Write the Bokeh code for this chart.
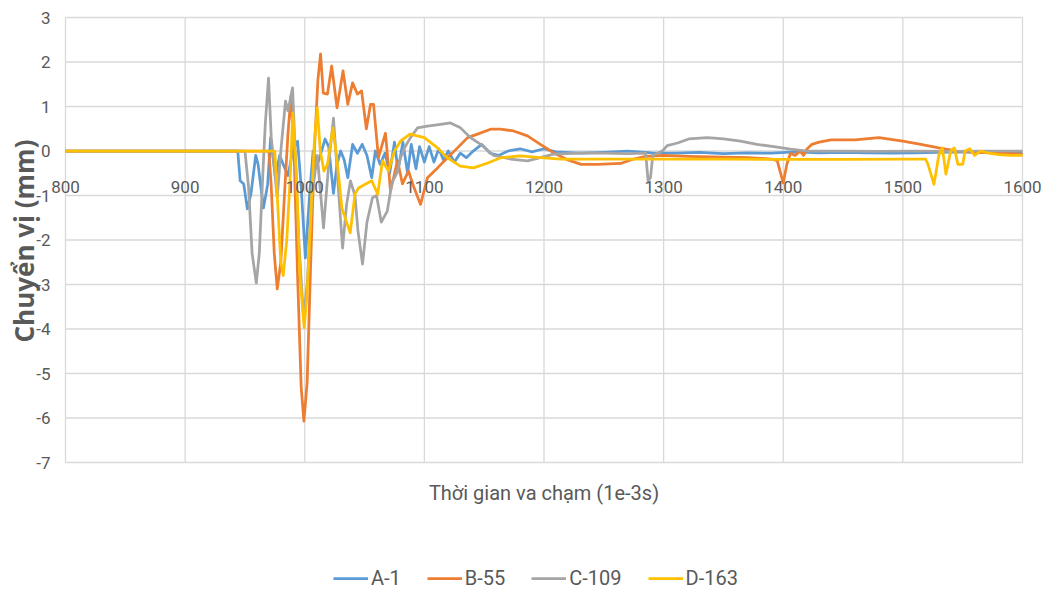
from bokeh.plotting import figure
from bokeh.models import Legend, LegendItem, Range1d
from bokeh.core.properties import value
from bokeh.embed import file_html
from bokeh.resources import INLINE
import math

# ---------------- data ----------------
x_ticks = [800, 900, 1000, 1100, 1200, 1300, 1400, 1500, 1600]
y_ticks = [-7, -6, -5, -4, -3, -2, -1, 0, 1, 2, 3]
series_names = ["A-1", "B-55", "C-109", "D-163"]
x_title = "Thời gian va chạm (1e-3s)"
y_title = "Chuyển vị (mm)"

a_t = [800, 850, 900, 944, 946, 949, 952, 955, 959, 961, 965.5, 969, 971.5, 975.5, 979, 982, 986, 990, 994, 997,
       1000.5, 1004, 1007, 1010, 1013, 1017, 1020, 1024, 1027, 1030, 1033, 1036, 1040, 1044, 1048, 1052, 1056, 1059,
       1063, 1067, 1071, 1075, 1078, 1082, 1086, 1089, 1093, 1096, 1100, 1104, 1108, 1112, 1116, 1120, 1125, 1130,
       1135, 1140, 1148, 1155, 1162, 1170, 1180, 1190, 1200, 1210, 1230, 1250, 1270, 1290, 1310, 1330, 1350, 1370,
       1390, 1410, 1430, 1450, 1470, 1490, 1510, 1530, 1550, 1570, 1600]
a_v = [0, 0, 0, 0, -0.67, -0.74, -1.3, -0.97, -0.1, -0.3, -1.28, -0.75, 0.3, -0.6, -0.1, -0.3, -0.55, 0.0, 0.22, -0.8,
       -2.4, -1.0, 0.0, -0.35, -0.1, 0.27, 0.1, -0.95, -0.3, 0.0, -0.2, -0.6, 0.15, -0.05, 0.15, -0.1, -0.6, 0.0,
       -0.3, -0.05, -0.5, 0.2, -0.45, 0.2, -0.5, 0.15, -0.4, 0.1, -0.25, 0.1, -0.25, 0.05, -0.2, 0.0, -0.25, -0.05,
       -0.15, -0.02, 0.15, -0.05, -0.1, 0.0, 0.05, -0.02, 0.05, -0.02, -0.05, -0.03, 0.0, -0.04, -0.05, -0.03, -0.06, -0.04,
       -0.05, -0.02, -0.04, -0.03, -0.04, -0.05, -0.04, -0.03, -0.02, -0.03, -0.03]

b_t = [800, 900, 970, 972, 974.5, 977, 980, 983, 986, 988.5, 991, 994, 997, 999.3, 1002, 1005, 1008, 1011, 1013.2,
       1015.5, 1019, 1022.5, 1027, 1032, 1036, 1040, 1044, 1047.5, 1051.5, 1055, 1057.5, 1061.6, 1067.5, 1071.7,
       1077.5, 1081.7, 1086.7, 1091, 1096.8, 1102.6, 1111, 1119.3, 1127.7, 1136.1, 1144.4, 1155.3, 1163.6, 1174.5,
       1186.2, 1197, 1208, 1220, 1231, 1245, 1264, 1275, 1285, 1300, 1320, 1350, 1370, 1390, 1395, 1400, 1403, 1406,
       1410, 1414, 1417, 1420, 1424, 1430, 1440, 1460, 1480, 1500, 1515, 1530, 1545, 1560, 1580, 1600]
b_v = [0, 0, 0, -0.8, -2.3, -3.1, -2.5, -1.0, 0.4, 1.24, 0.0, -2.8, -5.3, -6.07, -5.2, -2.5, 0.0, 1.6, 2.18,
       1.3, 1.28, 1.91, 0.97, 1.8, 1.05, 1.53, 1.28, 1.35, 0.5, 1.05, 1.05, -0.15, 0.4, -0.9,
       -0.22, -0.74, -0.45, -0.8, -1.2, -0.6, -0.38, -0.15, 0.07, 0.3, 0.38, 0.49, 0.49, 0.45,
       0.34, 0.15, -0.04, -0.2, -0.3, -0.3, -0.28, -0.18, -0.12, -0.1, -0.12, -0.14, -0.15, -0.18, -0.22, -0.72, -0.3, -0.05,
       -0.1, 0.0, -0.1, 0.05, 0.15, 0.2, 0.25, 0.25, 0.3, 0.22, 0.15, 0.07, 0.0, -0.03, -0.05, -0.07]

c_t = [800, 900, 950, 953, 956, 959.5, 962, 965, 967, 969.7, 972, 977, 980, 983.9, 986, 989.8, 992, 995, 999, 1002,
       1006, 1010.5, 1015.7, 1020, 1024, 1028, 1031.6, 1035, 1038.2, 1042, 1044.5, 1048.3, 1052, 1056.6, 1060, 1064,
       1069, 1073, 1077, 1080, 1084, 1088.4, 1094.3, 1102.6, 1113.5, 1121.8, 1130.2, 1138.6, 1147, 1157.8, 1172,
       1186.2, 1197, 1208, 1230, 1250, 1270, 1285, 1287, 1289, 1291, 1295, 1299, 1303, 1311.6, 1321, 1336.7, 1350,
       1364.3, 1378, 1392, 1406, 1420, 1450, 1480, 1510, 1540, 1570, 1600]
c_v = [0, 0, 0, -0.8, -2.3, -2.97, -2.3, -0.5, 0.6, 1.64, 0.3, -1.05, 0.0, 1.12, 0.9, 1.42, 0.0, -2.0, -3.75, -3.0,
       -1.0, -0.1, -1.73, -0.3, 0.74, -0.8, -2.18, -1.2, -0.67, -1.0, -1.8, -2.54, -1.6, -1.05, -1.0, -1.6,
       -1.35, -0.7, -0.5, -0.15, 0.1, 0.3, 0.52, 0.56, 0.6, 0.63, 0.52, 0.3, 0.15, -0.1, -0.18,
       -0.22, -0.15, -0.07, -0.05, -0.05, -0.06, -0.05, -0.67, -0.6, -0.1, -0.05, 0.0, 0.12, 0.18, 0.27, 0.3, 0.27,
       0.22, 0.15, 0.1, 0.04, 0.0, 0.0, -0.01, 0.0, -0.01, 0.0, 0.0]

d_t = [800, 900, 975, 977, 980, 982, 985, 988, 990, 993, 996, 999.5, 1002, 1005, 1008, 1010.5, 1013, 1016, 1019,
       1023.5, 1027, 1031, 1038, 1042, 1045, 1051, 1056, 1061, 1065, 1070, 1075, 1080, 1088, 1094, 1100, 1111, 1119,
       1130, 1141, 1153, 1164, 1180, 1197, 1214, 1250, 1300, 1350, 1400, 1450, 1500, 1519, 1521, 1526, 1530, 1533,
       1536, 1540, 1543, 1546, 1550, 1552, 1556, 1560, 1565, 1572, 1580, 1590, 1600]
d_v = [0, 0, 0, -1.0, -2.5, -2.8, -2.0, -0.5, 0.85, -0.5, -2.8, -3.97, -3.2, -1.5, 0.2, 0.97, 0.0, -0.45, -0.3,
       0.52, -0.2, -1.28, -1.84, -0.97, -0.83, -0.74, -0.67, -0.97, -0.22, -0.45, 0.0, 0.22, 0.38, 0.34, 0.3, 0.07, -0.15,
       -0.34, -0.38, -0.27, -0.15, -0.11, -0.15, -0.18, -0.18, -0.18, -0.18, -0.19, -0.19, -0.18, -0.18, -0.3, -0.75, -0.1, 0.07,
       -0.52, 0.0, 0.07, -0.3, -0.3, 0.0, 0.05, -0.1, 0.0, -0.05, -0.08, -0.1, -0.1]

colors = ["#5B9BD5", "#ED7D31", "#A5A5A5", "#FFC000"]

FONT = "Roboto"
TXT = "#595959"
GRID = "#D9D9D9"

# Whole canvas is the frame; ranges chosen so 800..1600 / -7..3 land on the reference plot area
W, H = 1045, 594
L, R, T, B = 65, 1022, 17, 462
X0, X1 = x_ticks[0], x_ticks[-1]
Y0, Y1 = y_ticks[0], y_ticks[-1]
ux = (X1 - X0) / (R - L)
uy = (Y1 - Y0) / (B - T)
x_range = Range1d(X0 - L * ux, X1 + (W - R) * ux)
y_range = Range1d(Y0 - (H - B) * uy, Y1 + T * uy)

p = figure(width=W, height=H, x_range=x_range, y_range=y_range,
           x_axis_location=None, y_axis_location=None, output_backend="svg", toolbar_location=None,
           min_border=0, background_fill_color="white", border_fill_color="white")
p.outline_line_color = None
p.xgrid.visible = False
p.ygrid.visible = False

# gridlines confined to the plot area
p.segment(x0=x_ticks, x1=x_ticks, y0=[Y0] * len(x_ticks), y1=[Y1] * len(x_ticks),
          line_color=GRID, line_width=1.3)
p.segment(x0=[X0] * len(y_ticks), x1=[X1] * len(y_ticks), y0=y_ticks, y1=y_ticks,
          line_color=GRID, line_width=1.3)

renderers = []
for t, v, c in zip([a_t, b_t, c_t, d_t], [a_v, b_v, c_v, d_v], colors):
    r = p.line(t, v, line_color=c, line_width=2.75, line_join="round")
    renderers.append(r)

# y tick labels
p.text(x=[X0 - 15 * ux] * len(y_ticks), y=y_ticks, text=[str(v) for v in y_ticks],
       text_align="right", text_baseline="middle", text_font=value(FONT), text_font_size="17px",
       text_color=TXT)
# x tick labels under the zero line
p.text(x=x_ticks, y=[-36 * uy] * len(x_ticks), text=[str(t) for t in x_ticks],
       text_align="center", text_baseline="middle", text_font=value(FONT), text_font_size="17px",
       text_color=TXT)
# axis titles
p.text(x=[(X0 + X1) / 2], y=[-(492 - 150) * uy], text=[x_title], text_align="center",
       text_baseline="middle", text_font=value(FONT), text_font_size="20px", text_color=TXT)
p.text(x=[X0 - 42 * ux], y=[-(240 - 150) * uy], text=[y_title], angle=math.pi / 2,
       text_align="center", text_baseline="middle", text_font=value("Open Sans"),
       text_font_size="26px", text_font_style="bold", text_color=TXT)

legend = Legend(items=[LegendItem(label=n, renderers=[r]) for n, r in zip(series_names, renderers)],
                location=(333, 4), orientation="horizontal", glyph_width=35, glyph_height=20,
                label_standoff=3, spacing=26, padding=0, margin=0,
                label_text_font=FONT, label_text_font_size="20px", label_text_color=TXT,
                border_line_color=None, background_fill_alpha=0)
p.add_layout(legend, "center")

open("out.html", "w").write(file_html(p, INLINE))
